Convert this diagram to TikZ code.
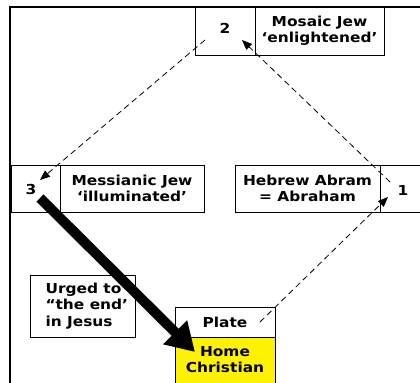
\documentclass[tikz,border=0pt]{standalone}
\usepackage{fontspec}
\setmainfont{DejaVu Sans}[FakeStretch=1.12]
\usetikzlibrary{arrows.meta}
\begin{document}
\begin{tikzpicture}[x=1bp,y=-1bp,
  txt/.style={font=\fontsize{13.8}{16}\selectfont\bfseries},
  box/.style={draw=black,line width=0.9bp,inner sep=0pt,align=center,txt},
  dasharrow/.style={draw=black,line width=0.8bp,dash pattern=on 6bp off 4bp,-{Triangle[length=10bp,width=8bp]}},
  bigarrow/.style={draw=black,line width=10bp,-{Triangle[length=28bp,width=32bp]}}]
\useasboundingbox (0,0) rectangle (420,383);
\begin{scope}
\clip (0,0) rectangle (420,383);
\draw[line width=2.5bp] (10,390) -- (10,7) -- (425,7);
\node[box,minimum width=60bp,minimum height=48bp] (n2) at (225,31) {};
\node[txt] (two) at (225,28) {2};
\node[box,minimum width=129bp,minimum height=48bp] (mos) at (319.5,31) {Mosaic Jew\\‘enlightened’};
\node[box,minimum width=49bp,minimum height=47bp] (n3) at (35.5,188.5) {};
\node[txt] (three) at (31,189) {3};
\node[box,minimum width=144bp,minimum height=47bp] (mes) at (132,188.5) {Messianic Jew\\‘illuminated’};
\node[box,minimum width=145bp,minimum height=47bp] (heb) at (307.5,188.5) {Hebrew Abram\\= Abraham};
\node[box,minimum width=50bp,minimum height=47bp] (n1) at (405,188.5) {};
\node[txt] (one) at (403,190) {1};
\node[box,minimum width=105bp,minimum height=62bp] (urg) at (82.5,306) {};
\node[txt,align=left,anchor=west,font=\fontsize{13.8}{16.5}\selectfont\bfseries] (urgtxt) at (42,306) {Urged to\\“the end’\\in Jesus};
\node[box,minimum width=100bp,minimum height=30bp] (plate) at (225,322) {Plate};
\node[box,fill=yellow,minimum width=100bp,minimum height=53bp,anchor=north] (home) at (225,337) {};
\node[txt,align=center] (hometxt) at (225,360) {Home\\Christian};
\end{scope}
\coordinate (a2s) at (205,40);
\coordinate (a3e) at (40,180);
\coordinate (a1s) at (390,182);
\coordinate (a2e) at (242,40);
\coordinate (aps) at (260,322);
\coordinate (a1e) at (388,197);
\coordinate (a3s) at (40,198);
\coordinate (ahe) at (195,352);
\draw[dasharrow] (a2s) -- (a3e);
\draw[dasharrow] (a1s) -- (a2e);
\draw[dasharrow] (aps) -- (a1e);
\draw[bigarrow] (a3s) -- (ahe);
\end{tikzpicture}
\end{document}
